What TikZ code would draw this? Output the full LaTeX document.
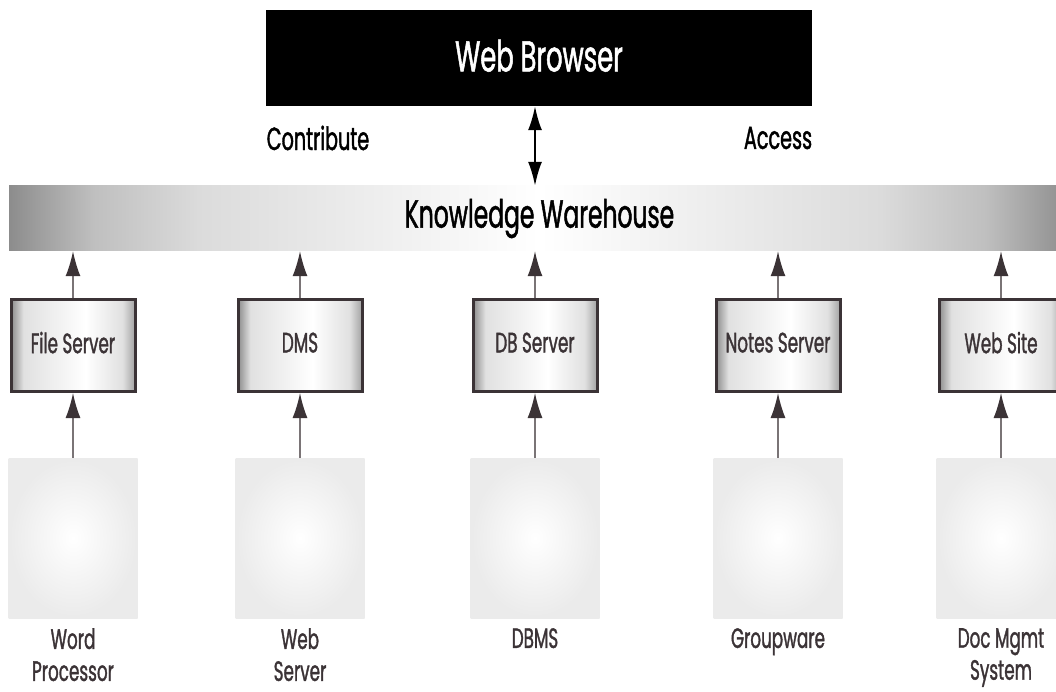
\documentclass[tikz,border=0pt]{standalone}
\usepackage{fontspec}
\setmainfont{Poppins}
\newfontfamily\fut[FakeStretch=0.6,FakeBold=1.2]{Poppins}
\usetikzlibrary{arrows.meta}
\definecolor{ink}{HTML}{3B3336}
\definecolor{shaft}{HTML}{7A7476}
\pgfdeclarehorizontalshading{servshade}{100bp}{color(0bp)=(black!45); color(25bp)=(black!45); color(30bp)=(black!12); color(55bp)=(white); color(70bp)=(black!12); color(75bp)=(black!36); color(100bp)=(black!36)}
\pgfdeclarehorizontalshading{bandshade}{100bp}{color(0bp)=(black!45); color(25bp)=(black!45); color(29bp)=(black!25); color(34bp)=(black!14); color(50bp)=(white); color(66bp)=(black!14); color(71bp)=(black!25); color(75bp)=(black!45); color(100bp)=(black!45)}
\begin{document}
\begin{tikzpicture}[x=1pt,y=-1pt,
  server/.style={draw=ink, line width=3pt, shading=servshade, minimum width=124pt, minimum height=92pt, inner sep=0pt, text=ink, font=\fut\fontsize{28}{30}\selectfont},
  app/.style={inner color=white, outer color=black!8, minimum width=129pt, minimum height=160pt, inner sep=0pt},
  feed/.style={draw=shaft, line width=1.5pt, -{Latex[length=25pt,width=15pt,color=ink]}},
  applabel/.style={anchor=north, align=center, inner sep=0pt, text=ink, font=\fut\fontsize{28}{32}\selectfont},
  toplabel/.style={inner sep=0pt, text=black, font=\fut\fontsize{32}{34}\selectfont}
]
\useasboundingbox (0,0) rectangle (1056,692);
\clip (0,0) rectangle (1056,692);

\node[fill=black, minimum width=546pt, minimum height=96pt, inner sep=0pt, text=white, font=\fut\fontsize{43}{45}\selectfont] (browser) at (539,58) {\raisebox{5pt}{Web Browser}};
\node[shading=bandshade, minimum width=1061pt, minimum height=65pt, inner sep=0pt, text=black, font=\fut\fontsize{39}{41}\selectfont] (band) at (539.5,218.5) {Knowledge Warehouse};

\node[toplabel] (contrib) at (318,138) {Contribute};
\node[toplabel] (access) at (778,138) {Access};

\draw[line width=2pt, {Latex[length=24pt,width=14pt]}-{Latex[length=24pt,width=14pt]}] ([xshift=-4pt]browser.south) -- ([xshift=-4pt]browser.south |- band.north);

\foreach \i/\x/\s/\a in {1/73/File Server/Word\\Processor, 2/300/DMS/Web\\Server, 3/535/DB Server/DBMS, 4/778/Notes Server/Groupware, 5/1001/Web Site/Doc Mgmt\\System}{
  \node[server] (s\i) at (\x,345.5) {\raisebox{6pt}{\s}};
  \node[app] (a\i) at (\x,538) {};
  \node[applabel] (l\i) at (\x,628) {\a};
  \draw[feed] (s\i.north) -- (s\i.north |- band.south);
  \draw[feed] (a\i.north) -- (s\i.south);
}
\end{tikzpicture}
\end{document}
